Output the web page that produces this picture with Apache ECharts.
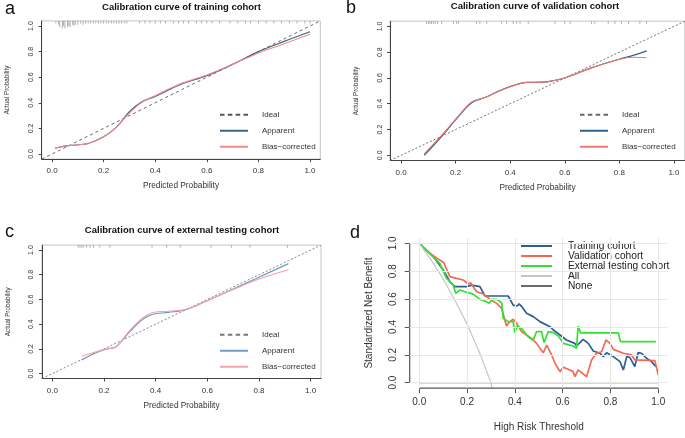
<!DOCTYPE html>
<html>
<head>
<meta charset="utf-8">
<script src="https://cdn.jsdelivr.net/npm/echarts@6/dist/echarts.min.js"></script>
<style>
  html, body { margin: 0; padding: 0; background: #fff; }
  #main { width: 685px; height: 438px; }
</style>
</head>
<body>
<div id="main"></div>
<script>
// ---- data ----
const tickVals = [0, 0.2, 0.4, 0.6, 0.8, 1.0];
const idealLine = [-0.04, 1.04];

// a: training cohort
const predA = [0.012, 0.05, 0.1, 0.14, 0.2, 0.25, 0.3, 0.35, 0.4, 0.5, 0.6, 0.7, 0.8, 0.9, 1.0];
const apparentA = [0.045, 0.062, 0.072, 0.082, 0.135, 0.21, 0.33, 0.41, 0.45, 0.545, 0.612, 0.7, 0.8, 0.88, 0.955];
const biasA = [0.045, 0.062, 0.072, 0.082, 0.135, 0.21, 0.32, 0.405, 0.455, 0.55, 0.618, 0.7, 0.79, 0.862, 0.935];
const rugA = [0.015, 0.025, 0.03, 0.04, 0.045, 0.05, 0.06, 0.065, 0.07, 0.08, 0.085, 0.09, 0.1, 0.11, 0.12, 0.13, 0.14, 0.15, 0.16, 0.17, 0.18, 0.19, 0.2, 0.21, 0.22, 0.23, 0.24, 0.25, 0.26, 0.27, 0.28, 0.29, 0.34, 0.36, 0.38, 0.4, 0.42, 0.44, 0.47, 0.49, 0.51, 0.53, 0.56, 0.58, 0.6, 0.62, 0.65, 0.69, 0.72, 0.75, 0.77, 0.8, 0.83, 0.86, 0.89, 0.92, 0.95, 0.98, 1.0];
const rugCountA = [1, 2, 4, 5, 3, 5, 4, 3, 4, 2, 3, 2, 2, 1, 2, 1, 1, 1, 1, 1, 1, 1, 1, 1, 1, 1, 1, 1, 1, 1, 1, 1, 1, 1, 1, 1, 1, 1, 1, 1, 1, 1, 1, 1, 1, 1, 1, 1, 1, 1, 1, 1, 1, 1, 1, 1, 1, 1, 1];

// b: validation cohort
const predB = [0.085, 0.15, 0.21, 0.26, 0.31, 0.36, 0.41, 0.46, 0.52, 0.56, 0.6, 0.7, 0.8, 0.85, 0.9];
const apparentB = [0.0, 0.15, 0.3, 0.41, 0.45, 0.5, 0.54, 0.565, 0.567, 0.58, 0.6, 0.68, 0.745, 0.775, 0.81];
const biasB = [0.012, 0.158, 0.305, 0.415, 0.45, 0.5, 0.54, 0.566, 0.567, 0.58, 0.6, 0.68, 0.745, 0.76, 0.757];
const rugB = [0.094, 0.1, 0.106, 0.112, 0.118, 0.125, 0.134, 0.149, 0.192, 0.204, 0.21, 0.277, 0.289, 0.314, 0.369, 0.387, 0.411, 0.424, 0.436, 0.466, 0.564, 0.6, 0.619, 0.698, 0.71, 0.759, 0.784, 0.808, 0.833, 0.875, 0.9];
const rugCountB = [1, 1, 1, 1, 1, 1, 1, 1, 1, 1, 1, 1, 1, 1, 1, 1, 1, 1, 1, 1, 1, 1, 1, 1, 1, 1, 1, 1, 1, 1, 1];

// c: external testing cohort
const predC = [0.114, 0.16, 0.21, 0.245, 0.3, 0.35, 0.39, 0.45, 0.52, 0.6, 0.7, 0.8, 0.914];
const apparentC = [0.11, 0.16, 0.2, 0.215, 0.34, 0.44, 0.48, 0.495, 0.52, 0.59, 0.685, 0.78, 0.89];
const biasC = [0.14, 0.17, 0.2, 0.215, 0.35, 0.45, 0.495, 0.505, 0.52, 0.59, 0.68, 0.765, 0.84];
const rugC = [0.1, 0.107, 0.114, 0.12, 0.133, 0.146, 0.159, 0.184, 0.223, 0.386, 0.443, 0.495, 0.614, 0.694, 0.765, 0.91];
const rugCountC = [1, 1, 1, 1, 1, 1, 1, 1, 1, 1, 1, 1, 1, 1, 1, 1];

// d: decision curves
const trainingD = [[0, 1], [0.059, 0.904], [0.1, 0.81], [0.128, 0.725], [0.149, 0.689], [0.198, 0.689], [0.219, 0.7], [0.254, 0.689], [0.265, 0.653], [0.275, 0.622], [0.372, 0.622], [0.393, 0.557], [0.41, 0.55], [0.418, 0.566], [0.428, 0.548], [0.449, 0.498], [0.477, 0.474], [0.505, 0.438], [0.547, 0.402], [0.561, 0.378], [0.589, 0.342], [0.616, 0.306], [0.651, 0.282], [0.658, 0.263], [0.686, 0.311], [0.707, 0.282], [0.728, 0.227], [0.756, 0.211], [0.77, 0.187], [0.784, 0.215], [0.812, 0.187], [0.84, 0.151], [0.854, 0.091], [0.868, 0.187], [0.881, 0.182], [0.902, 0.115], [0.916, 0.215], [0.93, 0.211], [0.951, 0.175], [0.972, 0.151], [0.99, 0.115]];
const validationD = [[0, 1], [0.045, 0.928], [0.086, 0.88], [0.103, 0.861], [0.128, 0.761], [0.156, 0.749], [0.184, 0.737], [0.205, 0.708], [0.215, 0.718], [0.226, 0.689], [0.24, 0.653], [0.268, 0.636], [0.296, 0.598], [0.324, 0.569], [0.345, 0.533], [0.365, 0.407], [0.379, 0.438], [0.393, 0.455], [0.407, 0.426], [0.428, 0.366], [0.449, 0.342], [0.47, 0.318], [0.491, 0.282], [0.505, 0.246], [0.519, 0.215], [0.533, 0.27], [0.554, 0.199], [0.568, 0.139], [0.589, 0.079], [0.603, 0.11], [0.623, 0.096], [0.644, 0.079], [0.651, 0.043], [0.665, 0.091], [0.686, 0.062], [0.7, 0.043], [0.721, 0.163], [0.742, 0.211], [0.763, 0.222], [0.781, 0.306], [0.798, 0.282], [0.812, 0.239], [0.854, 0.211], [0.888, 0.199], [0.902, 0.163], [0.986, 0.158], [1.0, 0.055]];
const externalD = [[0, 1], [0.086, 0.856], [0.114, 0.749], [0.142, 0.701], [0.153, 0.641], [0.17, 0.665], [0.191, 0.653], [0.205, 0.646], [0.226, 0.636], [0.254, 0.598], [0.282, 0.581], [0.293, 0.569], [0.303, 0.598], [0.324, 0.598], [0.331, 0.593], [0.345, 0.574], [0.351, 0.462], [0.372, 0.438], [0.393, 0.438], [0.4, 0.359], [0.41, 0.407], [0.428, 0.39], [0.449, 0.342], [0.463, 0.318], [0.477, 0.306], [0.491, 0.366], [0.512, 0.366], [0.522, 0.287], [0.54, 0.366], [0.561, 0.359], [0.582, 0.335], [0.603, 0.282], [0.644, 0.263], [0.658, 0.246], [0.665, 0.407], [0.675, 0.357], [0.7, 0.357], [0.833, 0.357], [0.842, 0.294], [0.99, 0.294]];
const allD = [[0, 1], [0.05, 0.88], [0.1, 0.745], [0.15, 0.59], [0.2, 0.42], [0.25, 0.225], [0.3, 0.0], [0.305, -0.04]];
const noneD = [[0, 0], [1, 0]];

// ---- chart ----
const FONT = '"Liberation Sans", Arial, sans-serif';
const DASH_ICON = 'path://M0,0h4v1h-4zM7,0h4v1h-4zM14,0h4v1h-4zM21,0h4v1h-4z';
const AXIS_MIN = -0.04, AXIS_MAX = 1.04;
const pts = (xs, ys) => xs.map((x, i) => [x, ys[i]]);
const rugPts = (xs, counts) => xs.map((x, i) => ({
  value: [x, AXIS_MAX],
  symbolSize: [0.8, 1.5 + counts[i] * 1.2],
  symbolOffset: [0, (1.5 + counts[i] * 1.2) / 2]
}));

const grids = [
  { left: 41.7, top: 20.9, width: 278.6, height: 138.2 },
  { left: 390.1, top: 21.2, width: 294.8, height: 139.3 },
  { left: 42, top: 245.1, width: 279, height: 133.4 },
  { left: 409.7, top: 237.8, width: 258.1, height: 150.4 }
];

let xAxes = [], yAxes = [];
grids.forEach((g, i) => {
  let isD = i === 3;
  let axisColor = isD ? '#555' : '#444';
  xAxes.push({
    type: 'value', gridIndex: i, min: AXIS_MIN, max: AXIS_MAX,
    name: isD ? 'High Risk Threshold' : 'Predicted Probability',
    nameLocation: 'middle', nameGap: isD ? 34 : 23,
    nameTextStyle: { fontSize: isD ? 10 : 8.3, color: '#333', fontFamily: FONT },
    axisLine: { show: !isD, onZero: false, lineStyle: { color: axisColor, width: 1 } },
    axisTick: { show: true, length: isD ? 5 : 3, customValues: tickVals, lineStyle: { color: axisColor } },
    axisLabel: { customValues: tickVals, fontSize: isD ? 10 : 8, color: '#333', margin: isD ? 9 : 8, fontFamily: FONT,
      formatter: v => v.toFixed(1) },
    splitLine: { show: false }
  });
  yAxes.push({
    type: 'value', gridIndex: i, min: AXIS_MIN, max: AXIS_MAX,
    name: isD ? 'Standardized Net Benefit' : 'Actual Probability',
    nameLocation: 'middle', nameGap: isD ? 35 : 31,
    nameTextStyle: { fontSize: isD ? 10 : 6.3, color: '#333', fontFamily: FONT },
    axisLine: { show: !isD, onZero: false, lineStyle: { color: axisColor, width: 1 } },
    axisTick: { show: true, length: isD ? 5 : 3, customValues: tickVals, lineStyle: { color: axisColor } },
    axisLabel: { customValues: tickVals, rotate: 90, fontSize: isD ? 10 : 7, color: '#333', margin: isD ? 11 : 7, fontFamily: FONT,
      formatter: v => v.toFixed(1) },
    splitLine: { show: false }
  });
});

let gridOpts = grids.map((g, i) => Object.assign({
  show: i !== 3, borderColor: '#c4c4c4', borderWidth: 1, backgroundColor: 'transparent'
}, g));

const calColors = [
  { ideal: '#555', idealType: [3, 3], apparent: '#3c6584', bias: '#f28a8c' },
  { ideal: '#666', idealType: [2, 2], apparent: '#30608c', bias: '#f0786e' },
  { ideal: '#777', idealType: [2, 2], apparent: '#6f9cc6', bias: '#f6a2aa' }
];
const calData = [
  [predA, apparentA, biasA, rugA, rugCountA],
  [predB, apparentB, biasB, rugB, rugCountB],
  [predC, apparentC, biasC, rugC, rugCountC]
];

let series = [];

// panel d: light reference grid at the tick values
series.push({
  name: 'dgrid', type: 'line', xAxisIndex: 3, yAxisIndex: 3, data: [], z: 1, silent: true,
  markLine: {
    silent: true, symbol: 'none', label: { show: false }, animation: false,
    lineStyle: { color: '#e8e8e8', width: 1, type: 'solid' },
    data: tickVals.map(v => ({ xAxis: v })).concat(tickVals.map(v => ({ yAxis: v })))
  }
});
// panel d: R-style axis lines, running only from the first to the last tick
let tFirst = tickVals[0], tLast = tickVals[tickVals.length - 1];
series.push({
  name: 'daxisX', type: 'line', xAxisIndex: 3, yAxisIndex: 3, data: [[tFirst, AXIS_MIN], [tLast, AXIS_MIN]],
  clip: false, symbol: 'none', silent: true, z: 4, lineStyle: { color: '#555', width: 1.2 }
});
series.push({
  name: 'daxisY', type: 'line', xAxisIndex: 3, yAxisIndex: 3, data: [[AXIS_MIN, tFirst], [AXIS_MIN, tLast]],
  clip: false, symbol: 'none', silent: true, z: 4, lineStyle: { color: '#555', width: 1.2 }
});

calData.forEach((d, i) => {
  let c = calColors[i];
  series.push({
    name: 'Ideal', type: 'line', xAxisIndex: i, yAxisIndex: i, symbol: 'none',
    data: pts(idealLine, idealLine), lineStyle: { color: c.ideal, width: 0.9, type: c.idealType },
    itemStyle: { color: c.ideal }
  });
  series.push({
    name: 'Apparent', type: 'line', xAxisIndex: i, yAxisIndex: i, symbol: 'none', smooth: 0.35,
    data: pts(d[0], d[1]), lineStyle: { color: c.apparent, width: 1.2 }, itemStyle: { color: c.apparent }
  });
  series.push({
    name: 'Bias\u2212corrected', type: 'line', xAxisIndex: i, yAxisIndex: i, symbol: 'none', smooth: 0.35,
    data: pts(d[0], d[2]), lineStyle: { color: c.bias, width: 1.1 }, itemStyle: { color: c.bias }
  });
  series.push({
    name: 'rug', type: 'scatter', xAxisIndex: i, yAxisIndex: i, symbol: 'rect', silent: true,
    data: rugPts(d[3], d[4]), itemStyle: { color: '#888' }
  });
});

const dSeries = [
  ['Training cohort', trainingD, '#2c5d95', 1.7],
  ['Validation cohort', validationD, '#f26a55', 1.7],
  ['External testing cohort', externalD, '#33e033', 1.7],
  ['All', allD, '#c6c6c6', 1.2],
  ['None', noneD, '#6a6a6a', 1.4]
];
dSeries.forEach(s => {
  series.push({
    name: s[0], type: 'line', xAxisIndex: 3, yAxisIndex: 3, symbol: 'none',
    data: s[1], lineStyle: { color: s[2], width: s[3] }, itemStyle: { color: s[2] }
  });
});

const calLegend = (left, top, i) => ({
  orient: 'vertical', left: left, top: top, padding: 0,
  itemWidth: 28, itemHeight: 2, itemGap: 5.5, symbolKeepAspect: false,
  selectedMode: false, icon: 'rect',
  textStyle: { fontSize: 8, color: '#333', padding: [0, 0, 0, 9], lineHeight: 10.5, fontFamily: FONT },
  data: [
    { name: 'Ideal', icon: DASH_ICON, itemStyle: { color: calColors[i].ideal } },
    { name: 'Apparent', itemStyle: { color: calColors[i].apparent } },
    { name: 'Bias\u2212corrected', itemStyle: { color: calColors[i].bias } }
  ]
});

let option = {
  animation: false,
  textStyle: { fontFamily: FONT },
  grid: gridOpts,
  xAxis: xAxes,
  yAxis: yAxes,
  legend: [
    calLegend(220, 109.5, 0),
    calLegend(580, 109.5, 1),
    calLegend(220, 329.5, 2),
    {
      orient: 'vertical', left: 521, top: 241, padding: 0,
      itemWidth: 31, itemHeight: 2, itemGap: 0, symbolKeepAspect: false,
      selectedMode: false, icon: 'rect',
      textStyle: { fontSize: 10.2, color: '#222', padding: [0, 0, 0, 11], lineHeight: 8, fontFamily: FONT },
      data: dSeries.map(s => s[0])
    }
  ],
  graphic: [
    { type: 'text', x: 181.5, y: 7, style: { text: 'Calibration curve of training cohort', font: 'bold 9.5px ' + FONT, fill: '#111', textAlign: 'center', textVerticalAlign: 'middle' } },
    { type: 'text', x: 535, y: 6, style: { text: 'Calibration curve of validation cohort', font: 'bold 9.5px ' + FONT, fill: '#111', textAlign: 'center', textVerticalAlign: 'middle' } },
    { type: 'text', x: 182, y: 230.5, style: { text: 'Calibration curve of external testing cohort', font: 'bold 9.5px ' + FONT, fill: '#111', textAlign: 'center', textVerticalAlign: 'middle' } },
    { type: 'text', x: 5, y: 9, style: { text: 'a', font: '18px ' + FONT, fill: '#111', textVerticalAlign: 'middle' } },
    { type: 'text', x: 346, y: 8, style: { text: 'b', font: '18px ' + FONT, fill: '#111', textVerticalAlign: 'middle' } },
    { type: 'text', x: 5, y: 232, style: { text: 'c', font: '18px ' + FONT, fill: '#111', textVerticalAlign: 'middle' } },
    { type: 'text', x: 350, y: 233, style: { text: 'd', font: '18px ' + FONT, fill: '#111', textVerticalAlign: 'middle' } }
  ],
  series: series
};

let chart = echarts.init(document.getElementById('main'));
chart.setOption(option);
</script>
</body>
</html>
